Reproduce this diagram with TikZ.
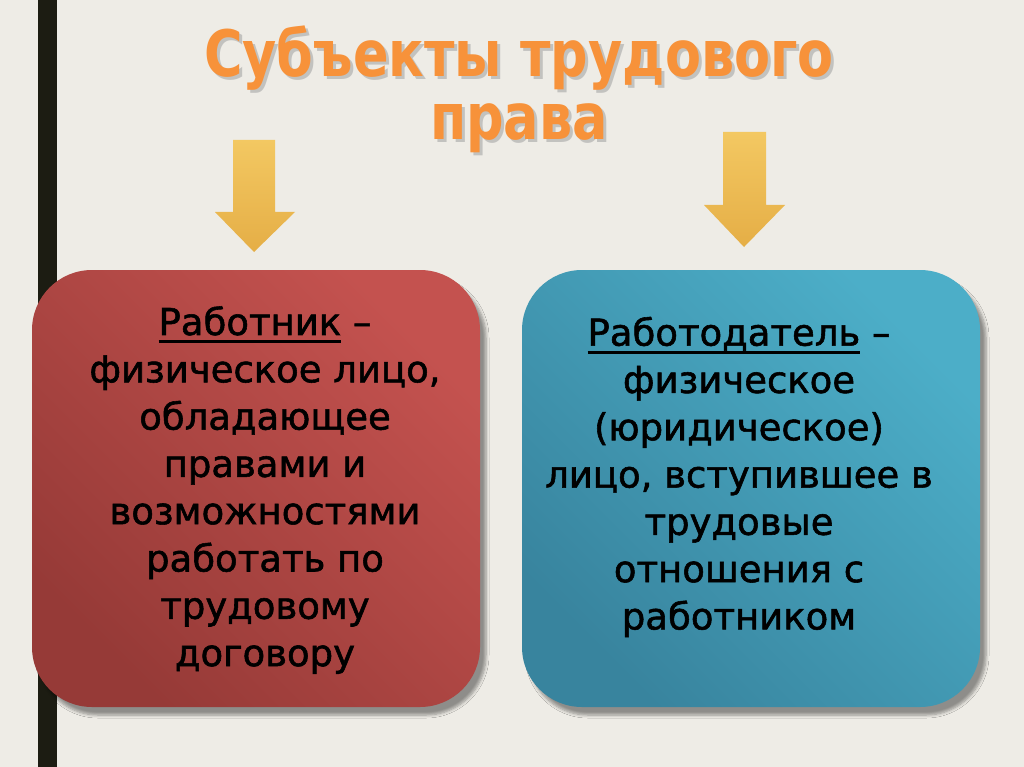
\documentclass[tikz,border=0pt]{standalone}
\usepackage{fontspec}
\setmainfont{DejaVu Sans}
\newfontfamily\titlefont[FakeStretch=0.82]{DejaVu Sans}
\newfontfamily\boxfont[FakeBold=1.5]{DejaVu Sans}
\usepackage{tikz}
\usetikzlibrary{positioning,shadows.blur}

\definecolor{bg}{RGB}{238,236,230}
\definecolor{bar}{RGB}{28,28,18}
\definecolor{redLight}{RGB}{196,82,79}
\definecolor{redDark}{RGB}{150,58,55}
\definecolor{blueLight}{RGB}{76,174,200}
\definecolor{blueDark}{RGB}{56,132,158}
\definecolor{arrowTop}{RGB}{243,200,98}
\definecolor{arrowBot}{RGB}{229,174,70}
\definecolor{titleOrange}{RGB}{247,146,58}

\newcommand{\undl}[1]{\setbox0=\hbox{#1}\rlap{\rule[-8pt]{\wd0}{3pt}}\box0\relax}

\tikzset{
  subjbox/.style={rounded corners=60pt,minimum width=#1,minimum height=437pt,inner sep=0pt,
    blur shadow={shadow xshift=6pt,shadow yshift=-8pt,shadow blur steps=6,shadow opacity=40,shadow blur radius=3pt}},
  boxtext/.style={align=center,inner sep=0pt,font=\boxfont\fontsize{37}{47.3}\selectfont},
  titletext/.style={align=center,inner sep=0pt,font=\titlefont\bfseries\fontsize{64}{63}\selectfont},
  goldarrow/.style={top color=arrowTop,bottom color=arrowBot,draw=none}
}

\begin{document}
\begin{tikzpicture}[x=1pt,y=-1pt]
\useasboundingbox (0,0) rectangle (1024,767);
\fill[bg] (0,0) rectangle (1024,767);
\fill[bar] (38,0) rectangle (57,767);

\node[titletext,text=gray!70,opacity=0.6] (titleShadow) at (522,92.5) {Субъекты трудового\\права};
\node[titletext,text=titleOrange] (title) at (519,89.5) {Субъекты трудового\\права};

\shade[goldarrow] (233,140)--(275,140)--(275,212)--(295,212)--(254,252)--(215,212)--(233,212)--cycle;
\shade[goldarrow] (723,132)--(766,132)--(766,205)--(785,205)--(744,247)--(704,205)--(723,205)--cycle;

\node[subjbox=448pt,top color=redDark,bottom color=redLight,shading angle=135] (worker) at (256,488.5) {};
\node[subjbox=458pt,top color=blueDark,bottom color=blueLight,shading angle=135] (employer) at (751,488.5) {};

\node[boxtext] (workerText) at (265,490) {\undl{Работник} –\\физическое лицо,\\обладающее\\правами и\\возможностями\\работать по\\трудовому\\договору};
\node[boxtext] (employerText) at (739,477) {\undl{Работодатель} –\\физическое\\(юридическое)\\лицо, вступившее в\\трудовые\\отношения с\\работником};
\end{tikzpicture}
\end{document}
